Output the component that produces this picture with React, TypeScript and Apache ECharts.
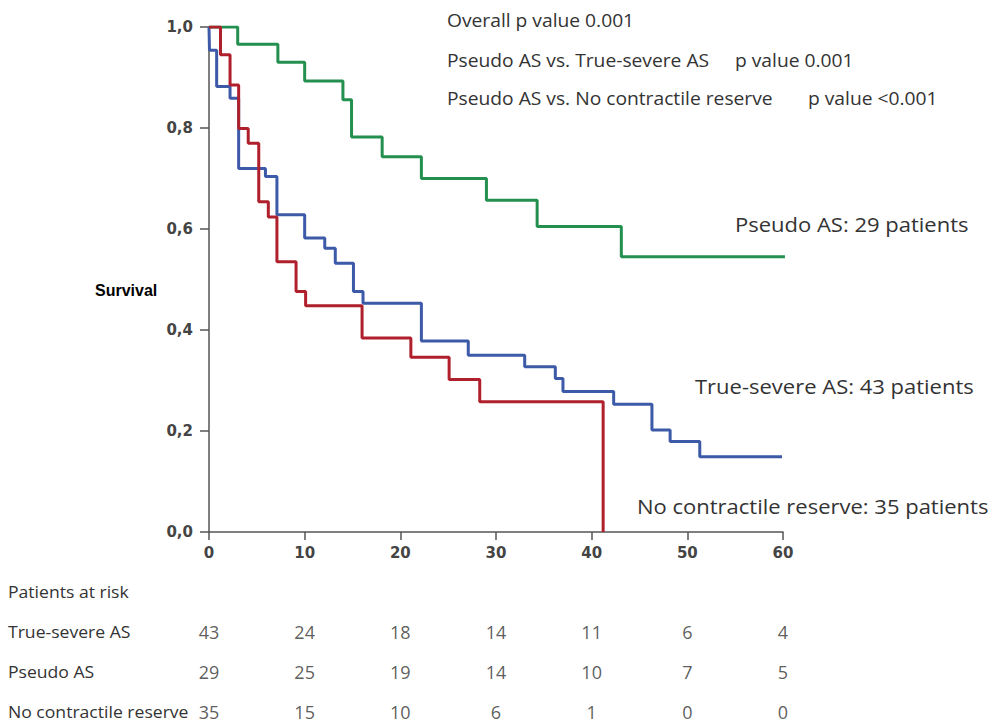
import React, { useEffect, useRef } from "react";
import * as echarts from "echarts";

// Kaplan-Meier steps: [month, survival after event]
const pseudoAS: [number, number][] = [
  [0, 1.0], [3.0, 0.966], [7.2, 0.93], [10.0, 0.893], [14.0, 0.856], [14.9, 0.782],
  [18.1, 0.743], [22.2, 0.7], [29.0, 0.657], [34.3, 0.605], [43.1, 0.545], [60.2, 0.545],
];
const trueSevereAS: [number, number][] = [
  [0, 1.0], [0.05, 0.954], [0.8, 0.882], [2.2, 0.859], [3.1, 0.72], [5.9, 0.704],
  [7.1, 0.628], [10.0, 0.582], [12.1, 0.562], [13.2, 0.532], [15.1, 0.476],
  [16.1, 0.453], [22.2, 0.378], [27.1, 0.35], [33.0, 0.327], [36.2, 0.304],
  [37.0, 0.278], [42.3, 0.253], [46.3, 0.202], [48.2, 0.179], [51.3, 0.149], [59.9, 0.149],
];
const noContractile: [number, number][] = [
  [0, 1.0], [1.2, 0.945], [2.2, 0.885], [3.1, 0.799], [4.1, 0.77], [5.2, 0.654],
  [6.2, 0.624], [7.1, 0.535], [9.1, 0.476], [10.1, 0.448], [16.0, 0.384],
  [21.1, 0.346], [25.1, 0.302], [28.3, 0.258], [41.2, 0.258], [41.2, 0.0],
];

const yTicks = [0, 0.2, 0.4, 0.6, 0.8, 1.0];
const xTicks = [0, 10, 20, 30, 40, 50, 60];

const riskTimes = [0, 10, 20, 30, 40, 50, 60];
const riskGroups = ["True-severe AS", "Pseudo AS", "No contractile reserve"];
const riskTrueSevere = [43, 24, 18, 14, 11, 6, 4];
const riskPseudo = [29, 25, 19, 14, 10, 7, 5];
const riskNoContractile = [35, 15, 10, 6, 1, 0, 0];

const pLines = [
  "Overall p value 0.001",
  "Pseudo AS vs. True-severe AS",
  "Pseudo AS vs. No contractile reserve",
];
const pValues = ["", "p value 0.001", "p value <0.001"];

const curveLabels = [
  "Pseudo AS: 29 patients",
  "True-severe AS: 43 patients",
  "No contractile reserve: 35 patients",
];

const GREEN = "#23904f";
const BLUE = "#3d5aa8";
const RED = "#b0202c";
const FONT = "'Open Sans', 'Liberation Sans', sans-serif";
const AXFONT = "'DejaVu Sans', sans-serif";
const TXT = "#333";
const SX = 1.1;

export default function App() {
  const ref = useRef<HTMLDivElement>(null);
  useEffect(() => {
    if (!ref.current) return;
    const chart = echarts.init(ref.current, undefined, { renderer: "svg" });
    const riskRows = [riskTrueSevere, riskPseudo, riskNoContractile];
    const riskData: any[] = [];
    riskRows.forEach((row, r) => {
      row.forEach((v, i) => riskData.push([riskTimes[i], r + 1, v]));
    });
    const lineSeries = (name: string, data: [number, number][], color: string, z: number) => ({
      type: "line",
      name,
      data,
      step: "end",
      showSymbol: false,
      symbol: "none",
      lineStyle: { color, width: 3 },
      xAxisIndex: 0,
      yAxisIndex: 0,
      z,
    });
    const txt = (t: string, x: number, y: number, size: number) => ({
      type: "text", x, y, scaleX: SX, scaleY: 1,
      style: { text: t, font: `${size}px ${FONT}`, fill: TXT, textVerticalAlign: "middle" },
    });
    const graphics: any[] = [];
    graphics.push({
      type: "text", x: 95, y: 290,
      style: { text: "Survival", font: "bold 16px 'Liberation Sans', sans-serif", fill: "#000", textVerticalAlign: "middle" },
    });
    const pY = [20, 60, 98];
    pLines.forEach((t, i) => graphics.push(txt(t, 447, pY[i], 17.5)));
    const pvX = [0, 735, 808];
    pValues.forEach((t, i) => {
      if (t) graphics.push(txt(t, pvX[i], pY[i], 17.5));
    });
    const clX = [735, 695, 637];
    const clY = [224, 386, 506];
    curveLabels.forEach((t, i) => graphics.push(txt(t, clX[i], clY[i], 20)));
    const rowY = [592, 632, 672, 712];
    ["Patients at risk", ...riskGroups].forEach((t, i) => graphics.push(txt(t, 8, rowY[i], 16)));

    chart.setOption({
      animation: false,
      backgroundColor: "#fff",
      grid: [
        { left: 209, top: 27, width: 574, height: 505 },
        { left: 209, top: 592, width: 574, height: 120 },
      ],
      xAxis: [
        {
          type: "value", gridIndex: 0, min: 0, max: 60, interval: 10,
          axisLine: { lineStyle: { color: "#555", width: 1.5 } },
          axisTick: { show: true, length: 8, lineStyle: { color: "#555", width: 1.5 } },
          splitLine: { show: false },
          axisLabel: { fontFamily: AXFONT, fontWeight: "bold", fontSize: 15, color: "#444", margin: 13,
            formatter: (v: number) => (xTicks.includes(v) ? String(v) : "") },
        },
        { type: "value", gridIndex: 1, min: 0, max: 60, show: false },
      ],
      yAxis: [
        {
          type: "value", gridIndex: 0, min: 0, max: 1, interval: 0.2,
          axisLine: { show: true, lineStyle: { color: "#555", width: 1.5 } },
          axisTick: { show: true, length: 9, lineStyle: { color: "#555", width: 1.5 } },
          splitLine: { show: false },
          axisLabel: { fontFamily: AXFONT, fontWeight: "bold", fontSize: 15, color: "#444", margin: 16,
            formatter: (v: number) => {
              const t = yTicks.find((k) => Math.abs(k - v) < 1e-6);
              return t === undefined ? "" : t.toFixed(1).replace(".", ",");
            } },
        },
        { type: "value", gridIndex: 1, min: 0, max: 3, inverse: true, show: false },
      ],
      series: [
        lineSeries("True-severe AS", trueSevereAS, BLUE, 2),
        lineSeries("Pseudo AS", pseudoAS, GREEN, 3),
        lineSeries("No contractile reserve", noContractile, RED, 4),
        {
          type: "scatter", xAxisIndex: 1, yAxisIndex: 1, data: riskData,
          symbolSize: 0,
          label: {
            show: true, position: "inside", fontFamily: FONT, fontSize: 18, color: TXT,
            formatter: (p: any) => String(p.value[2]),
          },
        },
      ],
      graphic: graphics,
    });
    return () => chart.dispose();
  }, []);
  return (
    <div
      ref={ref}
      style={{ position: "absolute", left: 0, top: 0, width: 992, height: 726 }}
    />
  );
}
